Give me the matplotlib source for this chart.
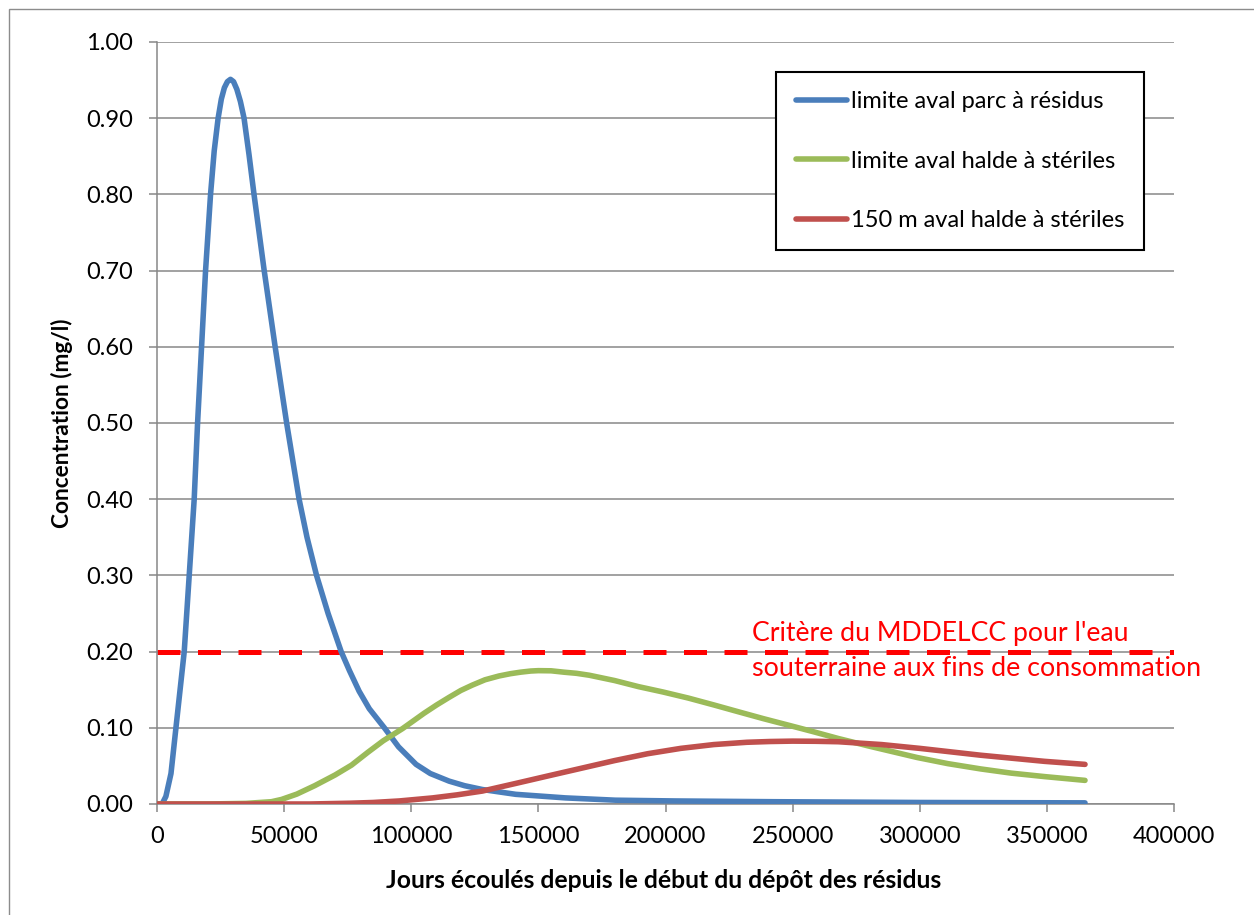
import matplotlib
matplotlib.use("Agg")
import matplotlib.pyplot as plt
from matplotlib.patches import Rectangle
from matplotlib.ticker import FixedLocator, FormatStrFormatter

plt.rcParams['font.family'] = ['Lato', 'DejaVu Sans']

# ---- data ----
blue_x = [0, 2000, 3500, 5500, 7450, 10710, 12670, 14630, 15960, 17530, 19100, 21060,
          22500, 24040, 25300, 26500, 27700, 28900, 30100, 31400, 32800, 34240, 36200,
          38160, 42160, 46470, 50990, 55890, 59000, 62750, 67300,
          72440, 75700, 79500, 83500, 89420, 95000, 101900, 107500, 114900, 121000,
          128000, 141100, 160700, 180300, 203800, 243000, 300000, 365000]
blue_y = [0, 0, 0.01, 0.04, 0.10, 0.20, 0.30, 0.40, 0.50, 0.60, 0.70, 0.80,
          0.857, 0.90, 0.925, 0.940, 0.948, 0.951, 0.948, 0.938, 0.922, 0.90, 0.852,
          0.80, 0.70, 0.60, 0.50, 0.40, 0.35, 0.30, 0.25,
          0.20, 0.175, 0.148, 0.125, 0.10, 0.075, 0.052, 0.040, 0.030, 0.024,
          0.019, 0.0127, 0.008, 0.005, 0.004, 0.003, 0.002, 0.0015]

green_x = [0, 20000, 35000, 45000, 49000, 55000, 62000, 70000, 76500, 83000, 89000,
           96600, 105000, 110000, 114900, 119500, 124000, 129000, 134500, 139000, 143000,
           147000, 150000, 155000, 160000, 165000, 170000,
           180000, 189400, 199000, 209000, 219000, 228700, 238500, 248300, 258000,
           267900, 280000, 299000, 311000, 324000, 336000, 349000, 365000]
green_y = [0, 0, 0.0008, 0.003, 0.006, 0.013, 0.024, 0.038, 0.051, 0.068, 0.083,
           0.099, 0.119, 0.130, 0.140, 0.149, 0.156, 0.163, 0.168, 0.171, 0.173,
           0.1745, 0.175, 0.1748, 0.173, 0.1715, 0.169,
           0.162, 0.154, 0.147, 0.139, 0.130, 0.121, 0.112, 0.1035, 0.095,
           0.086, 0.076, 0.061, 0.053, 0.046, 0.0405, 0.036, 0.031]

red_x = [0, 60000, 75700, 85000, 95300, 108400, 118000, 128000, 141100, 154000,
         167000, 180000, 193000, 206000, 219000, 232000, 241000, 250000, 259000,
         268000, 285000, 300000, 324000, 349000, 365000]
red_y = [0, 0, 0.001, 0.002, 0.004, 0.008, 0.012, 0.017, 0.027, 0.037,
         0.047, 0.057, 0.066, 0.073, 0.078, 0.081, 0.082, 0.0825, 0.0823,
         0.0817, 0.078, 0.073, 0.064, 0.056, 0.052]

series_labels = ["limite aval parc à résidus",
                 "limite aval halde à stériles",
                 "150 m aval halde à stériles"]
criterion = 0.20
criterion_lines = ["Critère du MDDELCC pour l'eau",
                   "souterraine aux fins de consommation"]

x_ticks = [0, 50000, 100000, 150000, 200000, 250000, 300000, 350000, 400000]
y_ticks = [0.0, 0.1, 0.2, 0.3, 0.4, 0.5, 0.6, 0.7, 0.8, 0.9, 1.0]
x_label = "Jours écoulés depuis le début du dépôt des résidus"
y_label = "Concentration (mg/l)"

# ---- figure ----
W, H = 1254, 915
fig = plt.figure(figsize=(W / 100, H / 100), dpi=100)
ax = fig.add_axes([157 / W, 1 - 804 / H, (1174 - 157) / W, (804 - 42) / H])

grid_c = "#878787"
ax.set_xlim(0, 400000)
ax.set_ylim(0, 1.0)
ax.yaxis.set_major_locator(FixedLocator(y_ticks))
ax.xaxis.set_major_locator(FixedLocator(x_ticks))
ax.yaxis.set_major_formatter(FormatStrFormatter('%.2f'))
ax.xaxis.set_major_formatter(FormatStrFormatter('%d'))
ax.grid(axis='y', color=grid_c, linewidth=1.1, zorder=0)
ax.set_axisbelow(True)
for s in ['top', 'right']:
    ax.spines[s].set_visible(False)
for s in ['left', 'bottom']:
    ax.spines[s].set_color(grid_c)
    ax.spines[s].set_linewidth(1.1)
ax.tick_params(axis='both', direction='out', length=6, width=1.1, color=grid_c,
               labelsize=17, labelcolor='black')
ax.tick_params(axis='y', pad=11)
ax.tick_params(axis='x', pad=10)

lw = 4.0
l1, = ax.plot(blue_x, blue_y, color="#4A7EBB", lw=lw, solid_capstyle='round',
              solid_joinstyle='round', zorder=3)
l2, = ax.plot(green_x, green_y, color="#9BBB59", lw=lw, solid_capstyle='round',
              solid_joinstyle='round', zorder=3)
l3, = ax.plot(red_x, red_y, color="#C0504D", lw=lw, solid_capstyle='round',
              solid_joinstyle='round', zorder=4)

ax.axhline(criterion, color="#FF0000", lw=3.6, dashes=(4.6, 3.5), dash_capstyle='butt',
           zorder=2)

ytr = ax.get_yaxis_transform()
ax.text(0.585, (804 - 633) / 762, criterion_lines[0], transform=ytr,
        color="#FF0000", fontsize=19.2, ha='left', va='center')
ax.text(0.585, (804 - 669) / 762, criterion_lines[1], transform=ytr,
        color="#FF0000", fontsize=19.4, ha='left', va='center', clip_on=False)

fig.text(((383 + 944) / 2) / W, 1 - 880 / H, x_label, fontsize=17.8, fontweight='bold',
         ha='center', va='center')
fig.text(62 / W, 1 - 423 / H, y_label, fontsize=16.3, fontweight='bold',
         ha='center', va='center', rotation=90)

leg = ax.legend([l1, l2, l3], series_labels, loc='upper right',
                bbox_to_anchor=((1144 - 157) / (1174 - 157), 1 - (72 - 42) / (804 - 42)),
                fontsize=17, frameon=True, fancybox=False, framealpha=1,
                edgecolor='black', handlelength=2.15, handletextpad=0.2,
                labelspacing=1.62, borderpad=0.82, borderaxespad=0)
leg.get_frame().set_linewidth(1.5)

# outer chart-area border
fig.patches.append(Rectangle((9 / W, -0.2), 2, 1 - 9 / H + 0.2, transform=fig.transFigure,
                             fill=False, edgecolor="#8c8c8c", linewidth=1.0))

fig.savefig("out.png", dpi=100)
